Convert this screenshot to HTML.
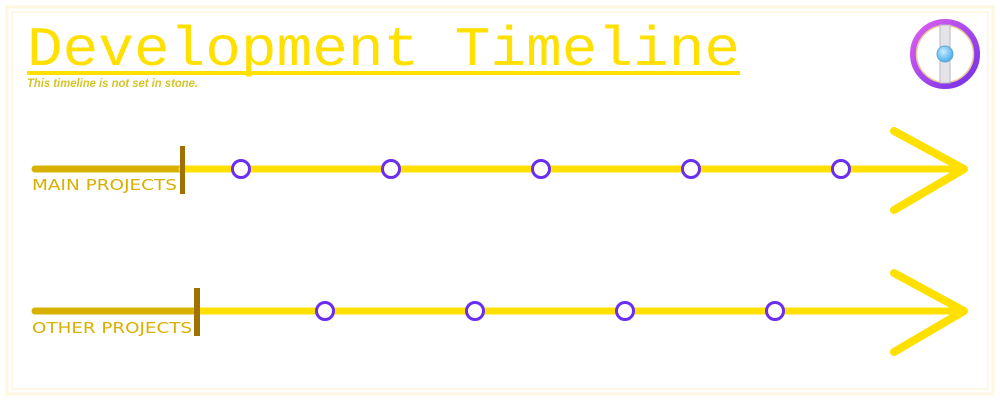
<!DOCTYPE html>
<html><head><meta charset="utf-8"><style>
html,body{margin:0;padding:0;background:#fff;}
svg{display:block;}
</style></head><body>
<svg width="1000" height="400" viewBox="0 0 1000 400" xmlns="http://www.w3.org/2000/svg">
<defs>
<linearGradient id="ring" x1="0" y1="0" x2="1" y2="1">
<stop offset="0" stop-color="#e060f0"/><stop offset="1" stop-color="#7030e8"/>
</linearGradient>
<radialGradient id="ball" cx="0.4" cy="0.35" r="0.7">
<stop offset="0" stop-color="#c8ecff"/><stop offset="1" stop-color="#40a8ec"/>
</radialGradient>
</defs>
<rect x="7" y="7" width="986" height="387" fill="none" stroke="#fff6e0" stroke-width="3"/>
<rect x="12" y="12" width="976" height="377" fill="none" stroke="#fff8e6" stroke-width="2"/>
<text x="27" y="65" font-family="Liberation Mono, monospace" font-size="56" fill="#ffe000" textLength="713" lengthAdjust="spacingAndGlyphs">Development Timeline</text>
<rect x="27" y="71" width="713" height="4" fill="#ffe000"/>
<text x="27" y="87" font-family="Liberation Sans, sans-serif" font-style="italic" font-weight="bold" font-size="11.5" fill="#d4c428" textLength="171" lengthAdjust="spacingAndGlyphs">This timeline is not set in stone.</text>
<g>
<circle cx="945" cy="54" r="32" fill="#fff" stroke="url(#ring)" stroke-width="6"/>
<circle cx="945" cy="54" r="28.5" fill="none" stroke="#e8c898" stroke-width="1.5"/>
<rect x="940" y="25" width="10" height="58" fill="#e4e4e8" stroke="#b8b8c0" stroke-width="1"/>
<circle cx="945" cy="54" r="8" fill="url(#ball)" stroke="#60a8d8" stroke-width="1"/>
</g>
<g stroke-linecap="round">
<line x1="35" y1="169" x2="182" y2="169" stroke="#d8b000" stroke-width="7"/>
<line x1="182" y1="169" x2="962" y2="169" stroke="#ffe000" stroke-width="7"/>
<polyline points="894,131 964,169 894,210" fill="none" stroke="#ffe000" stroke-width="8" stroke-linejoin="round"/>
<line x1="35" y1="311" x2="197" y2="311" stroke="#d8b000" stroke-width="7"/>
<line x1="197" y1="311" x2="962" y2="311" stroke="#ffe000" stroke-width="7"/>
<polyline points="894,273 964,311 894,352" fill="none" stroke="#ffe000" stroke-width="8" stroke-linejoin="round"/>
</g>
<rect x="180" y="146" width="5" height="48" fill="#a07000"/>
<rect x="194" y="288" width="6" height="48" fill="#a07000"/>
<g fill="#fff" stroke="#6a2ef0" stroke-width="3">
<circle cx="241" cy="169" r="8.5"/><circle cx="391" cy="169" r="8.5"/><circle cx="541" cy="169" r="8.5"/><circle cx="691" cy="169" r="8.5"/><circle cx="841" cy="169" r="8.5"/>
<circle cx="325" cy="311" r="8.5"/><circle cx="475" cy="311" r="8.5"/><circle cx="625" cy="311" r="8.5"/><circle cx="775" cy="311" r="8.5"/>
</g>
<text x="32" y="190" font-family="DejaVu Sans, sans-serif" font-size="15" fill="#d8b000" textLength="145" lengthAdjust="spacingAndGlyphs">MAIN PROJECTS</text>
<text x="32" y="333" font-family="DejaVu Sans, sans-serif" font-size="15" fill="#d8b000" textLength="160" lengthAdjust="spacingAndGlyphs">OTHER PROJECTS</text>
</svg>
</body></html>
